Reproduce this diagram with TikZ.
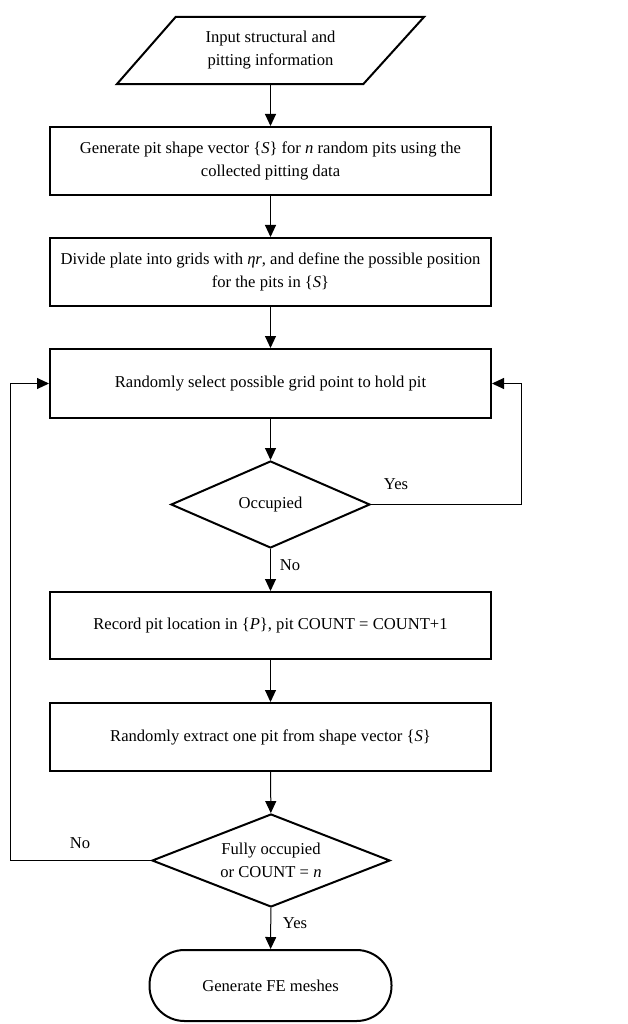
\documentclass[tikz,border=0pt]{standalone}
\usepackage{fontspec}
\setmainfont{Liberation Serif}
\usetikzlibrary{arrows.meta,shapes.geometric}

\begin{document}
\begin{tikzpicture}[x=1pt,y=-1pt,
	every node/.style={font=\fontsize{16.6}{23}\selectfont},
	box/.style={draw,line width=2pt,minimum width=441pt,minimum height=68pt,inner sep=0pt,align=center},
	decision/.style={draw,diamond,line width=2pt,inner sep=0pt,align=center},
	terminal/.style={draw,line width=2pt,rounded corners=35pt,minimum width=242pt,minimum height=71pt},
	io/.style={minimum width=307pt,minimum height=67pt,inner sep=0pt,align=center},
	arr/.style={line width=1pt,-{Triangle[length=12pt,width=11pt]}}]

	% ---- frame

	\useasboundingbox (0,0) rectangle (628,1024);

	% ---- nodes

	\node[io] (in) at (270.5,50.5) {Input structural and\\pitting information};
	\draw[line width=2pt] (in.south west) -- ([xshift=59pt]in.north west)
		-- (in.north east) -- ([xshift=-61pt]in.south east) -- cycle;

	\node[box] (gen) at (270.5,161) {Generate pit shape vector \{\textit{S}\} for \textit{n} random pits using the\\collected pitting data};
	\node[box] (div) at (270.5,272) {Divide plate into grids with \textit{ηr}, and define the possible position\\for the pits in \{\textit{S}\}};
	\node[box,minimum height=69pt] (sel) at (270.5,383.5) {Randomly select possible grid point to hold pit};
	\node[decision,minimum width=199pt,minimum height=87pt,aspect=2.3] (occ) at (270.5,504.5) {Occupied};
	\node[box,minimum height=67pt] (rec) at (270.5,625.5) {Record pit location in \{\textit{P}\}, pit COUNT = COUNT+1};
	\node[box] (ext) at (270.5,737) {Randomly extract one pit from shape vector \{\textit{S}\}};
	\node[decision,minimum width=238pt,minimum height=93pt,aspect=2.56] (full) at (271,860.5) {Fully occupied\\or COUNT = \textit{n}};
	\node[terminal] (fe) at (270.5,985.5) {Generate FE meshes};

	% ---- connectors

	\draw[arr] (in) -- (gen);
	\draw[arr] (gen) -- (div);
	\draw[arr] (div) -- (sel);
	\draw[arr] (sel) -- (occ);
	\draw[arr] (occ) -- (rec);
	\draw[arr] (rec) -- (ext);
	\draw[arr] (ext) -- (full);
	\draw[arr] (full) -- (fe);

	% ---- loops

	\coordinate (rloop) at (521,504.5);
	\coordinate (lloop) at (10,860.5);
	\draw[arr] (occ.east) -- (rloop) |- (sel.east);
	\draw[arr] (full.west) -- (lloop) |- (sel.west);

	% ---- labels

	\node (yes1) at (396,484) {Yes};
	\node (no1) at (290,565) {No};
	\node (no2) at (80,843) {No};
	\node (yes2) at (295,923) {Yes};

\end{tikzpicture}
\end{document}
